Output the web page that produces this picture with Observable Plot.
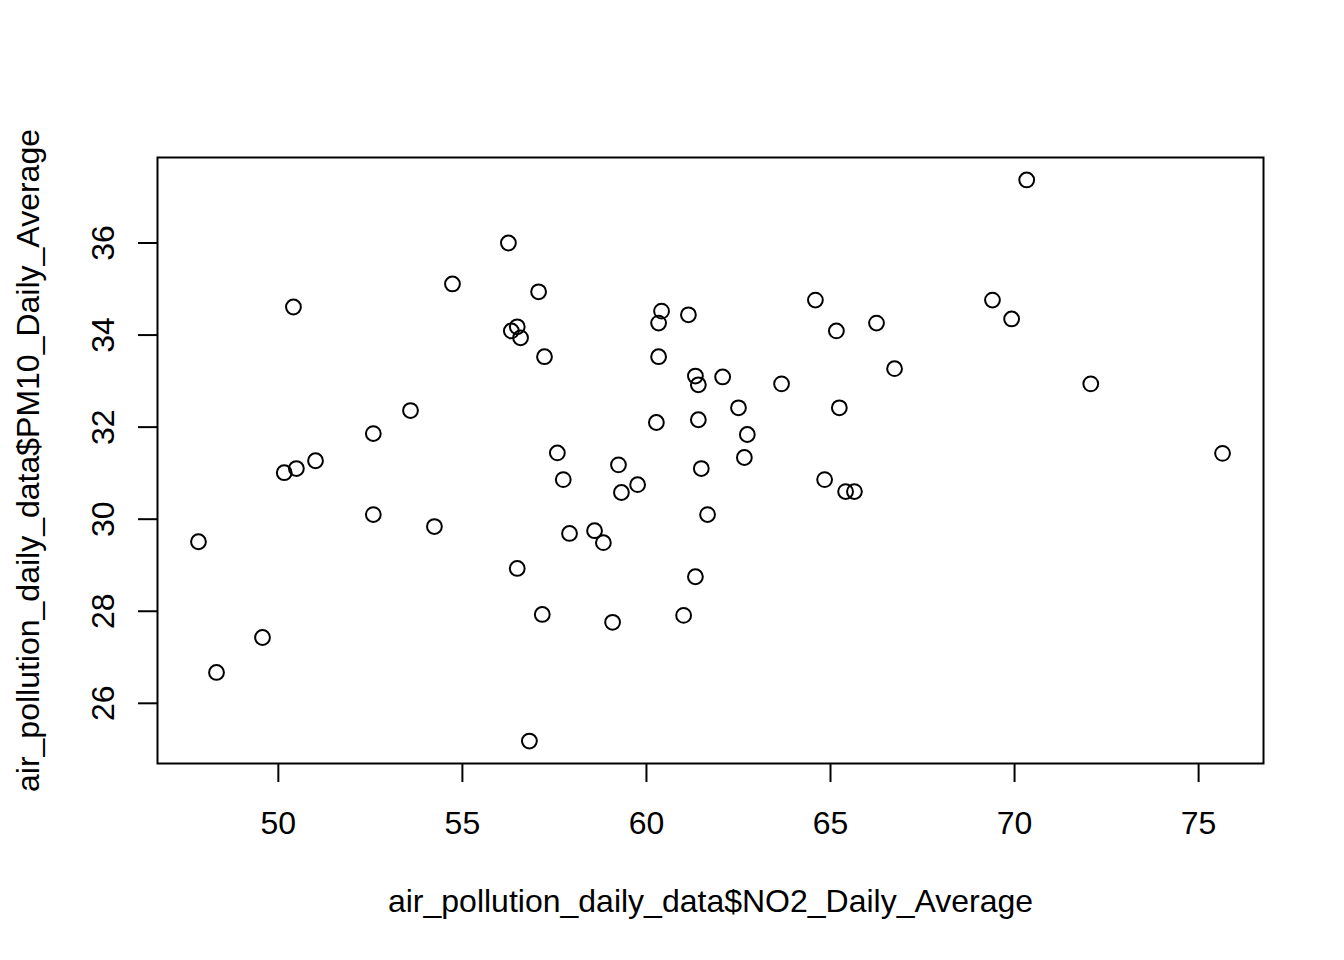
<!DOCTYPE html>
<html>
<head>
<meta charset="utf-8">
<script src="https://cdn.jsdelivr.net/npm/d3@7"></script>
<script src="https://cdn.jsdelivr.net/npm/@observablehq/plot@0.6"></script>
<style>
  html, body { margin: 0; padding: 0; background: white; }
</style>
</head>
<body>
<div id="chart"></div>
<script>
// NO2 daily average (x) and PM10 daily average (y)
const no2 = [
  47.83, 48.32, 49.57, 50.16, 50.41, 50.49, 51.01, 52.58, 52.58, 53.59,
  54.24, 54.73, 56.25, 56.33, 56.49, 56.58, 56.49, 56.82, 57.07, 57.17,
  57.23, 57.58, 57.74, 57.91, 58.59, 58.83, 59.08, 59.24, 59.32, 59.76,
  60.27, 60.33, 60.33, 60.41, 61.01, 61.14, 61.33, 61.41, 61.33, 61.41,
  61.49, 61.66, 62.07, 62.50, 62.74, 62.66, 63.67, 64.59, 64.84, 65.16,
  65.24, 65.41, 65.65, 66.25, 66.74, 69.40, 69.92, 70.33, 72.07, 75.65
];
const pm10 = [
  29.51, 26.67, 27.43, 31.01, 34.61, 31.10, 31.27, 31.86, 30.10, 32.36,
  29.84, 35.11, 36.00, 34.09, 34.18, 33.94, 28.93, 25.18, 34.94, 27.93,
  33.53, 31.44, 30.86, 29.69, 29.75, 29.49, 27.76, 31.18, 30.58, 30.75,
  32.10, 34.26, 33.53, 34.52, 27.91, 34.44, 33.11, 32.92, 28.75, 32.16,
  31.10, 30.10, 33.09, 32.42, 31.84, 31.34, 32.94, 34.76, 30.86, 34.09,
  32.42, 30.60, 30.60, 34.26, 33.27, 34.76, 34.35, 37.37, 32.94, 31.43
];
const xTicks = [50, 55, 60, 65, 70, 75];
const yTicks = [26, 28, 30, 32, 34, 36];
const xTitle = "air_pollution_daily_data$NO2_Daily_Average";
const yTitle = "air_pollution_daily_data$PM10_Daily_Average";

const points = no2.map((v, i) => ({no2: v, pm10: pm10[i]}));

// R-style 4% range extension
function extend([a, b]) { const d = (b - a) * 0.04; return [a - d, b + d]; }

const font = "'Liberation Sans', Arial, Helvetica, sans-serif";

const chart = Plot.plot({
  width: 1344,
  height: 960,
  marginLeft: 157,
  marginRight: 81,
  marginTop: 157,
  marginBottom: 197,
  style: {fontFamily: font, fontSize: "32px", background: "white", color: "black"},
  x: {domain: extend(d3.extent(no2)), label: null},
  y: {domain: extend(d3.extent(pm10)), label: null},
  marks: [
    Plot.axisX(xTicks, {tickSize: 19, tickPadding: 29, strokeWidth: 2, fontSize: 32, label: null, tickFormat: d => String(d)}),
    Plot.axisY(yTicks, {tickSize: 19, strokeWidth: 2, label: null, tickFormat: () => ""}),
    Plot.text(yTicks, {y: d => d, text: d => String(d), frameAnchor: "left", textAnchor: "middle", dx: -54, rotate: -90, fontSize: 32, fill: "black"}),
    Plot.text([xTitle], {text: d => d, frameAnchor: "bottom", dy: 148, fontSize: 32, fill: "black"}),
    Plot.text([yTitle], {text: d => d, frameAnchor: "left", textAnchor: "middle", dx: -129, rotate: -90, fontSize: 32, fill: "black"}),
    Plot.frame({stroke: "black", strokeWidth: 2}),
    Plot.dot(points, {x: "no2", y: "pm10", r: 7.4, stroke: "black", strokeWidth: 2, fill: "none"})
  ]
});
document.getElementById("chart").appendChild(chart);
</script>
</body>
</html>
